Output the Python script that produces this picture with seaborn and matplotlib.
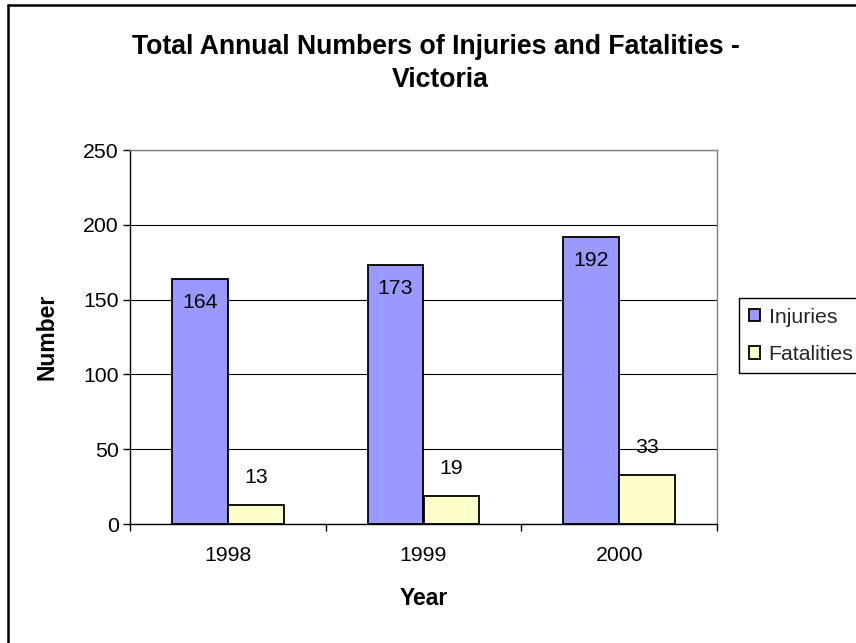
import matplotlib
matplotlib.use("Agg")
import matplotlib.pyplot as plt
from matplotlib.lines import Line2D
import seaborn as sns
import pandas as pd

# Annual totals for Victoria
years = ["1998", "1999", "2000"]
injuries = [164, 173, 192]
fatalities = [13, 19, 33]
series_names = ["Injuries", "Fatalities"]
y_ticks = [0, 50, 100, 150, 200, 250]

df = pd.DataFrame({
    "Year": years * 2,
    "Number": injuries + fatalities,
    "Series": [series_names[0]] * len(years) + [series_names[1]] * len(years),
})

sns.set_theme(style="white")
plt.rcParams["font.family"] = ["Liberation Sans", "DejaVu Sans"]

BASE = 15.3

fig = plt.figure(figsize=(8.56, 6.43), dpi=100)
ax = fig.add_axes([130 / 856, 1 - 524 / 643, 587 / 856, 374 / 643])

palette = {"Injuries": "#9999FF", "Fatalities": "#FFFFCC"}
sns.barplot(data=df, x="Year", y="Number", hue="Series", palette=palette,
            width=0.572, gap=0, edgecolor="black", linewidth=1.3,
            saturation=1, ax=ax, legend=True)

ax.set_ylim(0, 250)
ax.set_xlim(-0.5, 2.5)
ax.set_yticks(y_ticks)
ax.tick_params(axis="y", labelsize=BASE, length=5, width=1, color="black",
               direction="out", left=True, pad=3, labelcolor="black")
ax.tick_params(axis="x", labelsize=BASE, length=0, pad=16, labelcolor="black")
ax.set_xticks([-0.5, 0.5, 1.5, 2.5], minor=True)
ax.tick_params(axis="x", which="minor", bottom=True, length=5, width=1,
               color="black", direction="out")

ax.set_axisbelow(True)
ax.yaxis.grid(True, color="black", linewidth=0.8)
ax.xaxis.grid(False)

for side in ["left", "bottom"]:
    ax.spines[side].set_color("black")
    ax.spines[side].set_linewidth(1.0)
for side in ["top", "right"]:
    ax.spines[side].set_visible(True)
    ax.spines[side].set_color("#808080")
    ax.spines[side].set_linewidth(1.0)

ax.set_xlabel("Year", fontsize=16.5, fontweight="bold", labelpad=16, color="black")
ax.set_ylabel("Number", fontsize=16.5, fontweight="bold", labelpad=18, color="black")

# value labels: injuries inside the bar top, fatalities above the bar
inj_bars, fat_bars = ax.containers[0], ax.containers[1]
for bar, v in zip(inj_bars, injuries):
    ax.annotate(str(v), (bar.get_x() + bar.get_width() / 2, v),
                xytext=(0, -17), textcoords="offset points",
                ha="center", va="center", fontsize=BASE, color="black")
for bar, v in zip(fat_bars, fatalities):
    ax.annotate(str(v), (bar.get_x() + bar.get_width() / 2, v),
                xytext=(0, 19.5), textcoords="offset points",
                ha="center", va="center", fontsize=BASE, color="black")

fig.text(436 / 856, 1 - 47 / 643, "Total Annual Numbers of Injuries and Fatalities -",
         ha="center", va="center", fontsize=19.2, fontweight="bold", color="black")
fig.text(440 / 856, 1 - 80 / 643, "Victoria",
         ha="center", va="center", fontsize=19.2, fontweight="bold", color="black")

leg = ax.legend(loc="upper left", mode="expand",
                bbox_to_anchor=(739 / 856, 1 - 374 / 643, 140 / 856, 76 / 643),
                bbox_transform=fig.transFigure, fontsize=BASE, frameon=True,
                fancybox=False, framealpha=1, edgecolor="black",
                handlelength=0.55, handleheight=0.55, handletextpad=0.4,
                borderpad=0.45, labelspacing=0.86, borderaxespad=0)
leg.get_frame().set_linewidth(1.0)

# chart area frame
y_top = 1 - 4.5 / 643
x_left = 8 / 856
fig.add_artist(Line2D([x_left, x_left], [0, y_top], transform=fig.transFigure,
                      color="black", linewidth=1.8))
fig.add_artist(Line2D([x_left, 1.0], [y_top, y_top], transform=fig.transFigure,
                      color="black", linewidth=1.8))

fig.savefig("out.png", dpi=100, facecolor="white")
